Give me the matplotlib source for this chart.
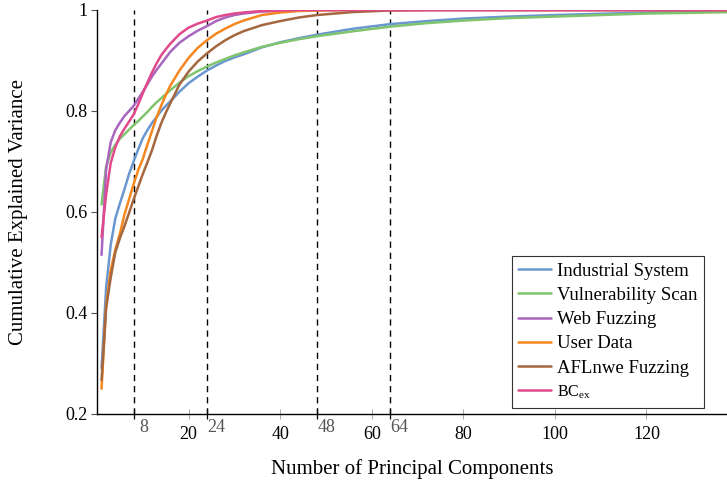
import matplotlib
matplotlib.use("Agg")
import matplotlib.pyplot as plt
import matplotlib.transforms as mtransforms

plt.rcParams['font.family'] = ['Liberation Serif', 'DejaVu Serif']
plt.rcParams['mathtext.fontset'] = 'custom'
plt.rcParams['mathtext.rm'] = 'Liberation Serif'
plt.rcParams['mathtext.it'] = 'Liberation Serif:italic'

# number of principal components
components = [1, 2, 3, 4, 5, 6, 7, 8, 9, 10, 11, 12, 13, 14, 15, 16, 18,
              20, 22, 24, 26, 28, 30, 32, 36, 40, 44, 48, 56, 64, 72, 80,
              90, 100, 120, 140]

industrial = [0.290, 0.450, 0.535, 0.587, 0.617, 0.645, 0.675, 0.700,
              0.724, 0.746, 0.762, 0.776, 0.788, 0.800, 0.810, 0.819,
              0.838, 0.855, 0.868, 0.880, 0.890, 0.899, 0.906, 0.912,
              0.926, 0.936, 0.944, 0.951, 0.963, 0.972, 0.978, 0.983,
              0.987, 0.990, 0.995, 0.998]
vuln_scan = [0.615, 0.690, 0.718, 0.733, 0.745, 0.754, 0.763, 0.772,
             0.780, 0.789, 0.798, 0.808, 0.817, 0.825, 0.833, 0.841,
             0.856, 0.869, 0.879, 0.888, 0.896, 0.903, 0.910, 0.916,
             0.927, 0.935, 0.942, 0.948, 0.958, 0.967, 0.974, 0.979,
             0.984, 0.987, 0.993, 0.996]
web_fuzz = [0.515, 0.685, 0.738, 0.762, 0.777, 0.790, 0.800, 0.810,
            0.824, 0.838, 0.853, 0.868, 0.881, 0.893, 0.905, 0.917,
            0.935, 0.948, 0.959, 0.968, 0.978, 0.985, 0.990, 0.993,
            0.997, 0.998, 0.999, 0.9995, 1.0, 1.0, 1.0, 1.0,
            1.0, 1.0, 1.0, 1.0]
user_data = [0.250, 0.415, 0.485, 0.525, 0.557, 0.595, 0.625, 0.655,
             0.683, 0.705, 0.733, 0.760, 0.787, 0.810, 0.831, 0.850,
             0.880, 0.905, 0.925, 0.940, 0.953, 0.963, 0.972, 0.979,
             0.990, 0.995, 0.998, 0.999, 1.0, 1.0, 1.0, 1.0,
             1.0, 1.0, 1.0, 1.0]
aflnwe = [0.267, 0.410, 0.470, 0.520, 0.548, 0.572, 0.598, 0.625,
          0.650, 0.675, 0.698, 0.722, 0.750, 0.775, 0.796, 0.815,
          0.852, 0.878, 0.898, 0.914, 0.928, 0.940, 0.950, 0.958,
          0.970, 0.978, 0.985, 0.990, 0.996, 0.999, 1.0, 1.0,
          1.0, 1.0, 1.0, 1.0]
bc_ex = [0.550, 0.635, 0.697, 0.728, 0.750, 0.765, 0.779, 0.793,
         0.813, 0.835, 0.856, 0.876, 0.894, 0.910, 0.922, 0.933,
         0.952, 0.965, 0.973, 0.979, 0.986, 0.990, 0.993, 0.995,
         0.998, 0.999, 1.0, 1.0, 1.0, 1.0, 1.0, 1.0,
         1.0, 1.0, 1.0, 1.0]

series = [
    ('Industrial System', industrial, '#6a97cf'),
    ('Vulnerability Scan', vuln_scan, '#80c46e'),
    ('Web Fuzzing', web_fuzz, '#a866bd'),
    ('User Data', user_data, '#f5871f'),
    ('AFLnwe Fuzzing', aflnwe, '#a4673f'),
    (r'BC$_{\mathrm{ex}}$', bc_ex, '#e04a8c'),
]

major_ticks = [20, 40, 60, 80, 100, 120]
extra_ticks = [8, 24, 48, 64]
y_ticks = [0.2, 0.4, 0.6, 0.8, 1.0]
y_labels = ['0.2', '0.4', '0.6', '0.8', '1']

fig = plt.figure(figsize=(7.27, 4.83), dpi=100)
ax = fig.add_axes([0.1334, 0.1429, 0.8666, 0.8364])

for label, values, color in series:
    ax.plot(components, values, color=color, lw=1.8, label=label,
            solid_capstyle='round', solid_joinstyle='round', zorder=3)

for xv in extra_ticks:
    ax.axvline(xv, color='black', lw=1.0, ls=(0, (4.5, 3.5)), zorder=2)

ax.set_xlim(0, 137.6)
ax.set_ylim(0.2, 1.0)

ax.spines['top'].set_visible(False)
ax.spines['right'].set_visible(False)
ax.spines['left'].set_linewidth(1.0)
ax.spines['bottom'].set_linewidth(1.0)

ax.set_yticks(y_ticks)
ax.set_yticklabels(y_labels)
ax.tick_params(axis='y', direction='out', length=4, width=0.8,
               color='#555555', labelsize=13, pad=3)

ax.set_xticks(major_ticks)
ax.set_xticklabels([str(t) for t in major_ticks])
ax.tick_params(axis='x', which='major', direction='inout', length=7,
               width=0.6, color='#999999', labelsize=13, pad=5)

ax.set_xticks(extra_ticks, minor=True)
ax.set_xticklabels([str(t) for t in extra_ticks], minor=True)
ax.tick_params(axis='x', which='minor', direction='inout', length=7,
               width=0.9, color='black', labelsize=13, pad=0,
               labelcolor='#555555')
shift = mtransforms.ScaledTranslation(7 / 72, 0, fig.dpi_scale_trans)
for lab in ax.xaxis.get_minorticklabels():
    lab.set_transform(lab.get_transform() + shift)

ax.set_xlabel('Number of Principal Components', fontsize=15, labelpad=12)
ax.set_ylabel('Cumulative Explained Variance', fontsize=15, labelpad=27)

leg = ax.legend(loc='lower right', bbox_to_anchor=(0.963, 0.015),
                borderaxespad=0, fontsize=13.5, frameon=True, fancybox=False,
                edgecolor='black', handlelength=1.75, handletextpad=0.3,
                labelspacing=0.38, borderpad=0.35)
leg.get_frame().set_linewidth(0.8)
leg.get_texts()[-1].set_fontsize(11.5)

fig.savefig('out.png', dpi=100)
